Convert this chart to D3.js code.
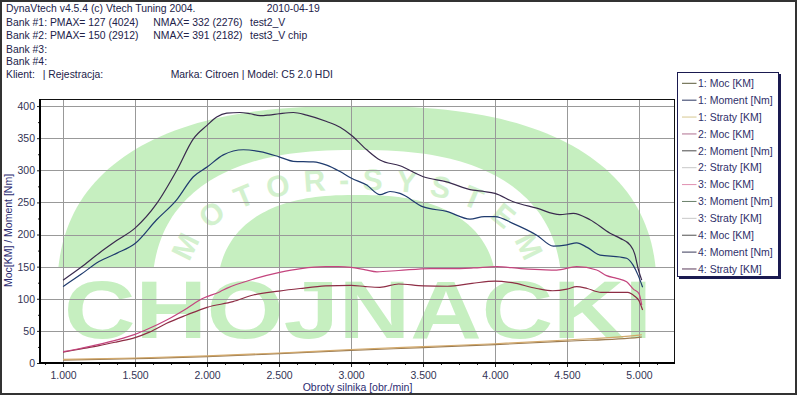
<!DOCTYPE html>
<html><head><meta charset="utf-8">
<script src="https://cdn.jsdelivr.net/npm/d3@7"></script>
<style>
body{margin:0;background:#fff;}
svg{display:block;font-family:"Liberation Sans",Arial,sans-serif;}
</style>
</head><body>
<svg id="c" width="800" height="396"></svg>
<script>
// ---------- DATA ----------
const headerLeft = ["DynaVtech v4.5.4 (c) Vtech Tuning 2004.", "Bank #1: PMAX= 127 (4024)", "Bank #2: PMAX= 150 (2912)", "Bank #3:", "Bank #4:", "Klient:"];
const headerMid = ["", "NMAX= 332 (2276)", "NMAX= 391 (2182)", "", "", "| Rejestracja:"];
const headerRight = ["2010-04-19", "test2_V", "test3_V chip", "", "", "Marka: Citroen | Model: C5 2.0 HDI"];

const xTicks = [1000,1500,2000,2500,3000,3500,4000,4500,5000];
const yTicks = [0,50,100,150,200,250,300,350,400];

const legendLabels = ["1: Moc [KM]","1: Moment [Nm]","1: Straty [KM]","2: Moc [KM]","2: Moment [Nm]","2: Straty [KM]","3: Moc [KM]","3: Moment [Nm]","3: Straty [KM]","4: Moc [KM]","4: Moment [Nm]","4: Straty [KM]"];

const rpmMoment2 = [1000,1125,1250,1375,1500,1650,1790,1905,2000,2067,2137,2229,2300,2368,2430,2500,2599,2692,2831,2924,3000,3109,3201,3340,3502,3664,3847,3925,4000,4127,4290,4451,4543,4660,4799,4870,4937,4970,4995,5019];
const moment2 = [129,149,171,191,210,248,300,349,370,383,389,390,388,385,386,388,390,386,376,367,355,332,316,307,290,282,269,267,264,251,241,231,233,223,202,194,184,170,146,129];

const rpmMoment1 = [1000,1125,1250,1375,1500,1650,1789,1905,2000,2113,2252,2368,2500,2599,2738,2831,2924,3000,3109,3201,3271,3340,3502,3664,3826,3925,4000,4127,4290,4405,4500,4567,4640,4729,4868,4914,4960,4995,5025];
const moment1 = [119,138,158,171,186,223,254,290,305,324,332,329,321,314,313,308,298,288,277,262,267,264,243,236,224,228,228,217,199,182,184,187,180,168,165,163,152,136,118];

const rpmPower2 = [1000,1125,1250,1375,1500,1600,1720,1859,1965,2090,2144,2314,2504,2653,2823,2912,3000,3100,3180,3330,3549,3700,3850,4012,4180,4350,4428,4567,4706,4775,4845,4914,4961,5000,5019];
const power2 = [17.6,23,29,36,44.6,54,67,85,100,111,117,130,141,147,150,150,149,145,142,144,147,147,148,150,147,145,144.7,150,144.7,136,131.7,126.5,115,108,90];

const rpmPower1 = [1000,1125,1250,1375,1500,1600,1720,1859,2000,2180,2322,2500,2646,2823,3000,3100,3201,3330,3502,3670,3840,4000,4120,4290,4400,4500,4567,4640,4736,4921,4970,5000,5025];
const power1 = [17,22,27,33,39.4,48,61.8,74.7,86.7,95.5,105.8,112,116,120,121,119,117.8,123,120,119.5,124,127.6,125,116,112.5,115,119,116,110,110,104,97,82.5];

const rpmStraty = [1000,1500,2000,2500,3000,3500,4000,4500,5000,5020];
const straty1 = [4.5,6.8,9.8,14.5,19.5,24,28.6,34,40,40.5];
const straty2 = [5.5,7.8,11,15.6,21,25.5,30,35.8,43.5,44];

// ---------- STYLE ----------
const legendColors = ["#5a5a3a","#2a3560","#d8c890","#b07090","#4a4a4a","#c8c8c8","#e090b0","#6a806a","#c8c8c8","#505050","#3a3a5a","#5a3a5a"];
const series = [
  {rpm: rpmStraty, v: straty1, color: "#9c7c52"},
  {rpm: rpmStraty, v: straty2, color: "#d2a86a"},
  {rpm: rpmPower1, v: power1, color: "#8e2d45"},
  {rpm: rpmPower2, v: power2, color: "#c4457e"},
  {rpm: rpmMoment1, v: moment1, color: "#1f3b6e"},
  {rpm: rpmMoment2, v: moment2, color: "#3a2a4e"}
];
const GREEN = "#c6efc0";
const TXT = "#22224a";
const NAVY = "#2c2c72";

const svg = d3.select("#c");
const L = 40, R = 675, T = 99, B = 363;
const x = d3.scaleLinear().domain([840, 5250]).range([L, R]);
const y = d3.scaleLinear().domain([0, 411]).range([B, T]);

// outer frame
svg.append("rect").attr("x",1).attr("y",1).attr("width",795).attr("height",393)
  .attr("fill","#fff").attr("stroke","#333").attr("stroke-width",2);

// header
const hy = [12, 25.8, 39.2, 52.5, 65.4, 77.8];
const hg = svg.append("g").attr("font-size","10.4px").attr("fill",TXT);
headerLeft.forEach((t,i)=>{ if(t) hg.append("text").attr("x",6).attr("y",hy[i]).text(t); });
headerMid.forEach((t,i)=>{ if(t) hg.append("text").attr("x", i===5?42.7:153.3).attr("y",hy[i]).text(t); });
headerRight.forEach((t,i)=>{ if(t) hg.append("text").attr("x", i===0?266.7:(i===5?170.7:250)).attr("y",hy[i]).text(t); });

// clip
const defs = svg.append("defs");
defs.append("clipPath").attr("id","plotclip").append("rect").attr("x",L).attr("y",T).attr("width",R-L).attr("height",B-T);
defs.append("clipPath").attr("id","archclip").append("rect").attr("x",L).attr("y",T).attr("width",R-L).attr("height",267-T);

// plot background
svg.append("rect").attr("x",L).attr("y",T).attr("width",R-L).attr("height",B-T).attr("fill","#fff");

// watermark
function superShape(cx, cy, rx, ry, n, t0, t1, steps){
  return d3.range(steps+1).map(i=>{
    const t = t0 + (t1-t0)*i/steps;
    const c = Math.cos(t), s = Math.sin(t);
    return [cx + rx*Math.sign(c)*Math.pow(Math.abs(c),2/n), cy - ry*Math.sign(s)*Math.pow(Math.abs(s),2/n)];
  });
}
const wm = svg.append("g").attr("clip-path","url(#plotclip)");
const arch = wm.append("g").attr("clip-path","url(#archclip)");
const closed = d3.line().curve(d3.curveLinearClosed);
arch.append("path").attr("d", closed(superShape(357,300,300,194,2.5,0,2*Math.PI,200))).attr("fill",GREEN);
arch.append("path").attr("d", closed(superShape(357,300,205,150,2.5,0,2*Math.PI,200))).attr("fill","#fff");
arch.append("path").attr("d", closed(superShape(357,300,140,105,2.5,0,2*Math.PI,200))).attr("fill",GREEN);
const tp = superShape(357,300,172,110,2.5,Math.PI,0,200);
defs.append("path").attr("id","mpath").attr("d", d3.line()(tp));
arch.append("text").attr("font-size","30px").attr("font-weight","bold").attr("fill","#d3f1ce")
  .append("textPath").attr("href","#mpath").attr("startOffset","50%").attr("text-anchor","middle")
  .attr("textLength",390).attr("lengthAdjust","spacing").text("MOTOR-SYSTEM");
wm.append("text").attr("x",64).attr("y",338).attr("font-size","81px").attr("font-weight","bold")
  .attr("fill",GREEN).attr("textLength",588).attr("lengthAdjust","spacingAndGlyphs").text("CHOJNACKI");

// grid
const grid = svg.append("g").attr("stroke","#999").attr("stroke-width",1).attr("shape-rendering","crispEdges");
xTicks.forEach(v=>grid.append("line").attr("x1",Math.round(x(v))+0.5).attr("x2",Math.round(x(v))+0.5).attr("y1",T).attr("y2",B));
yTicks.filter(v=>v>0).forEach(v=>grid.append("line").attr("x1",L).attr("x2",R).attr("y1",Math.round(y(v))+0.5).attr("y2",Math.round(y(v))+0.5));

// series
const line = d3.line().x(d=>x(d[0])).y(d=>y(d[1])).curve(d3.curveMonotoneX);
const sg = svg.append("g").attr("clip-path","url(#plotclip)");
series.forEach(s=>{
  sg.append("path").attr("d", line(s.rpm.map((r,i)=>[r, s.v[i]])))
    .attr("fill","none").attr("stroke",s.color).attr("stroke-width",1.2);
});

// frame
svg.append("rect").attr("x",L+0.5).attr("y",T+0.5).attr("width",R-L-1).attr("height",B-T-1)
  .attr("fill","none").attr("stroke","#111").attr("shape-rendering","crispEdges");

// axes
const fmt = d => d3.format(",")(d).replace(/,/g, ".");
const xMinor = d3.range(875, 5250, 125).filter(v=>v%500!==0);
const xAxisMinor = svg.append("g").attr("transform",`translate(0,${B})`)
  .call(d3.axisBottom(x).tickValues(xMinor).tickSize(2).tickFormat(""));
const xAxis = svg.append("g").attr("transform",`translate(0,${B})`)
  .call(d3.axisBottom(x).tickValues(xTicks).tickSize(4).tickPadding(4.5).tickFormat(fmt));
const yMinor = d3.range(25, 411, 25).filter(v=>v%50!==0);
const yAxisMinor = svg.append("g").attr("transform",`translate(${L},0)`)
  .call(d3.axisLeft(y).tickValues(yMinor).tickSize(2).tickFormat(""));
const yAxis = svg.append("g").attr("transform",`translate(${L},0)`)
  .call(d3.axisLeft(y).tickValues(yTicks).tickSize(3).tickPadding(2));
[xAxis, xAxisMinor, yAxis, yAxisMinor].forEach(a=>{
  a.select(".domain").remove();
  a.selectAll("line").attr("stroke","#222");
  a.selectAll("text").attr("font-size","10.5px").attr("fill","#333355").attr("font-family","Liberation Sans, Arial, sans-serif");
});
// thick axis lines
svg.append("line").attr("x1",L).attr("x2",L).attr("y1",T).attr("y2",B+1).attr("stroke","#000").attr("stroke-width",2);
svg.append("line").attr("x1",L-1).attr("x2",R).attr("y1",B).attr("y2",B).attr("stroke","#000").attr("stroke-width",2);

// axis titles
svg.append("text").attr("x",(L+R)/2).attr("y",391).attr("text-anchor","middle")
  .attr("font-size","10.5px").attr("fill",NAVY).text("Obroty silnika [obr./min]");
svg.append("text").attr("transform","translate(12,230.5) rotate(-90)").attr("text-anchor","middle")
  .attr("font-size","10.5px").attr("fill",NAVY).text("Moc[KM] / Moment [Nm]");

// legend
const lg = svg.append("g");
lg.append("rect").attr("x",679).attr("y",74).attr("width",102).attr("height",205).attr("fill","#1a1a50");
lg.append("rect").attr("x",677.5).attr("y",72.5).attr("width",101).attr("height",204).attr("fill","#fff").attr("stroke","#1a1a50");
legendLabels.forEach((t,i)=>{
  const cy = 83.3 + i*16.88;
  lg.append("line").attr("x1",682).attr("x2",696.5).attr("y1",cy).attr("y2",cy).attr("stroke",legendColors[i]).attr("stroke-width",1);
  lg.append("text").attr("x",698).attr("y",cy+3.7).attr("font-size","10.5px").attr("fill","#30306a").text(t);
});
</script>
</body></html>
